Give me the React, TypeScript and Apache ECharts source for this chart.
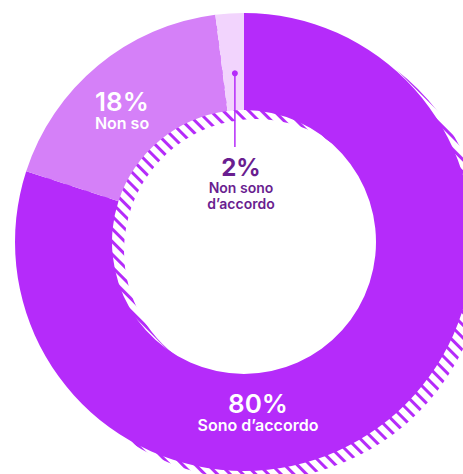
import React, { useEffect, useRef } from 'react';
import * as echarts from 'echarts';

// ---- data ----
const categories: string[] = ['Sono d’accordo', 'Non so', 'Non sono\nd’accordo'];
const values: number[] = [80, 18, 2];
const percentLabels: string[] = ['80%', '18%', '2%'];

// ---- styles / layout ----
const sliceColors = ['#B52BFA', '#D580F8', '#F2D4FD'];
const darkLabel = '#6A1E90';
const CX = 244;
const CY = 242;
const R_IN = 132;
const R_OUT = 229;
const SHADOW_DX = 12;
const SHADOW_DY = 9;
const FONT = 'Inter, "Noto Sans", sans-serif';

// label block: centre x and top y
const labelPos = [
  { x: 258, y: 390, color: '#ffffff', pSize: 26, pw: 600, cSize: 16, cw: 600, pLH: 26, cLH: 17 },
  { x: 122, y: 88, color: '#ffffff', pSize: 26, pw: 600, cSize: 16, cw: 600, pLH: 26, cLH: 17 },
  { x: 241, y: 155, color: darkLabel, pSize: 24, pw: 700, cSize: 14, cw: 600, pLH: 24, cLH: 16 },
];

export default function App() {
  const ref = useRef<HTMLDivElement>(null);
  useEffect(() => {
    document.body.style.margin = '0';
    if (!ref.current) return;
    const chart = echarts.init(ref.current, undefined, { renderer: 'svg' });
    const total = values.reduce((a, b) => a + b, 0);

    const graphics: any[] = [];
    values.forEach((v, i) => {
      const p = labelPos[i];
      const capLines = categories[i]
        .split('\n')
        .map((l) => `{c|${l}}`)
        .join('\n');
      graphics.push({
        type: 'text',
        silent: true,
        z: 100,
        style: {
          text: `{p|${percentLabels[i]}}\n${capLines}`,
          x: p.x,
          y: p.y,
          fill: p.color,
          fontFamily: FONT,
          align: 'center',
          verticalAlign: 'top',
          textAlign: 'center',
          textVerticalAlign: 'top',
          rich: {
            p: {
              fontFamily: FONT,
              fontSize: p.pSize,
              fontWeight: p.pw,
              lineHeight: p.pLH,
              fill: p.color,
              color: p.color,
              align: 'center',
            },
            c: {
              fontFamily: FONT,
              fontSize: p.cSize,
              fontWeight: p.cw,
              lineHeight: p.cLH,
              fill: p.color,
              color: p.color,
              align: 'center',
            },
          },
        },
      });
    });

    // leader for the smallest slice, computed from its angle
    const before = values.slice(0, 2).reduce((a, b) => a + b, 0);
    const mid = ((before + values[2] / 2) / total) * Math.PI * 2;
    const dotR = 169;
    const dx = CX + dotR * Math.sin(mid) + 1.5;
    const dy = CY - dotR * Math.cos(mid);
    graphics.push({
      type: 'line',
      silent: true,
      z: 90,
      shape: { x1: dx, y1: dy, x2: dx, y2: 147 },
      style: { stroke: sliceColors[0], lineWidth: 1.5 },
    });
    graphics.push({
      type: 'circle',
      silent: true,
      z: 91,
      shape: { cx: dx, cy: dy, r: 3 },
      style: { fill: sliceColors[0] },
    });

    chart.setOption({
      animation: false,
      graphic: graphics,
      series: [
        {
          type: 'pie',
          silent: true,
          z: 1,
          center: [CX + SHADOW_DX, CY + SHADOW_DY],
          radius: [R_IN, R_OUT],
          startAngle: 90,
          label: { show: false },
          labelLine: { show: false },
          emphasis: { disabled: true },
          data: [
            {
              value: total,
              itemStyle: {
                color: '#ffffff',
                decal: {
                  symbol: 'rect',
                  symbolSize: 1,
                  dashArrayX: [1, 0],
                  dashArrayY: [3, 6],
                  rotation: Math.PI / 4,
                  color: sliceColors[0],
                  backgroundColor: '#ffffff',
                },
              },
            },
          ],
        },
        {
          type: 'pie',
          silent: true,
          z: 2,
          center: [CX, CY],
          radius: [R_IN, R_OUT],
          startAngle: 90,
          clockwise: true,
          label: { show: false },
          labelLine: { show: false },
          emphasis: { disabled: true },
          data: values.map((v, i) => ({
            value: v,
            name: categories[i],
            itemStyle: { color: sliceColors[i] },
          })),
        },
      ],
    });
    return () => chart.dispose();
  }, []);
  return <div ref={ref} style={{ width: 463, height: 474 }} />;
}
